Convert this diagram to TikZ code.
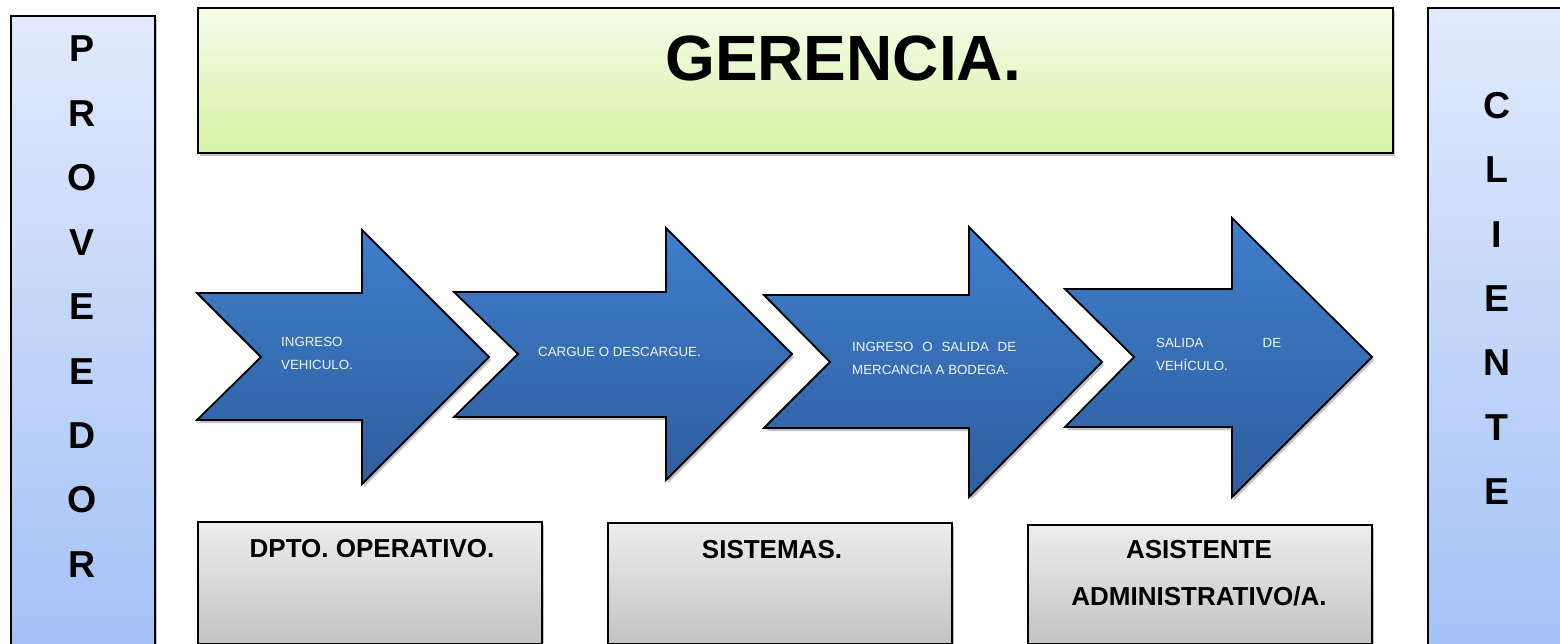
\documentclass[tikz,border=0pt]{standalone}
\usepackage{fontspec}
\setmainfont{Liberation Sans}
\usetikzlibrary{shadows}
\definecolor{arrowtop}{HTML}{3F7ECB}
\definecolor{arrowbot}{HTML}{2E5E9E}
\definecolor{sidetop}{HTML}{E1EAFD}
\definecolor{sidebot}{HTML}{A3C1F6}
\definecolor{greentop}{HTML}{F6FDEA}
\definecolor{greenbot}{HTML}{D5F2A3}
\definecolor{graytop}{HTML}{EDEDED}
\definecolor{graybot}{HTML}{C3C3C3}
\definecolor{txtwhite}{HTML}{F0F4FA}
\begin{document}
\begin{tikzpicture}[x=1pt,y=-1pt,
  boxshadow/.style={drop shadow={shadow xshift=2pt,shadow yshift=-3pt,opacity=0.35,fill=black!70}},
  plainbox/.style={draw=black,line width=1.6pt,anchor=north west,inner sep=0pt,boxshadow},
  sidebox/.style={plainbox,top color=sidetop,bottom color=sidebot},
  greenbox/.style={plainbox,top color=greentop,bottom color=greenbot},
  graybox/.style={plainbox,top color=graytop,bottom color=graybot},
  bigletter/.style={font=\fontsize{37.5}{40}\selectfont\bfseries,anchor=base,inner sep=0pt},
  deptlabel/.style={font=\fontsize{26}{30}\selectfont\bfseries,anchor=base,inner sep=0pt},
  processarrow/.style={draw=black,line width=1.8pt,line join=miter,top color=arrowtop,bottom color=arrowbot,boxshadow},
  arrowlabel/.style={font=\fontsize{13.3}{23}\selectfont,text=txtwhite,align=left,anchor=west,inner sep=0pt}
]
\useasboundingbox (0,0) rectangle (1560,644);

% side boxes
\node[sidebox,minimum width=144pt,minimum height=640pt] (prov) at (10,15) {};
\node[sidebox,minimum width=150pt,minimum height=650pt] (cli) at (1427,7) {};
\foreach \l [count=\i] in {P,R,O,V,E,E,D,O,R}
  \node[bigletter] (p\i) at (82,{62+(\i-1)*64.4}) {\l};
\foreach \l [count=\i] in {C,L,I,E,N,T,E}
  \node[bigletter] (c\i) at (1497,{118.5+(\i-1)*64.3}) {\l};

% gerencia
\node[greenbox,minimum width=1195pt,minimum height=145pt] (ger) at (197,7) {};
\node[font=\fontsize{64}{70}\selectfont\bfseries,anchor=base,inner sep=0pt] (gertext) at (843,81) {GERENCIA.};

% department boxes
\node[graybox,minimum width=344pt,minimum height=122pt] (dpto) at (197,521) {};
\node[graybox,minimum width=344pt,minimum height=121pt] (sist) at (607,522) {};
\node[graybox,minimum width=344pt,minimum height=119pt] (asis) at (1027,524) {};
\node[deptlabel] (dptotext) at (372,557) {DPTO. OPERATIVO.};
\node[deptlabel] (sisttext) at (772,558) {SISTEMAS.};
\node[deptlabel] (asistext1) at (1199,558) {ASISTENTE};
\node[deptlabel] (asistext2) at (1199,605) {ADMINISTRATIVO/A.};

% process arrows
\path[processarrow] (197,293) -- (362,293) -- (362,230) -- (489,357) -- (362,484)
  -- (362,420) -- (197,420) -- (261,357) -- cycle;
\path[processarrow] (454,292) -- (666,292) -- (666,228) -- (792,354) -- (666,480)
  -- (666,417) -- (454,417) -- (518,354) -- cycle;
\path[processarrow] (764,295) -- (969,295) -- (969,227) -- (1102,362) -- (969,497)
  -- (969,428) -- (764,428) -- (830,362) -- cycle;
\path[processarrow] (1065,289) -- (1232,289) -- (1232,218) -- (1372,357) -- (1232,497)
  -- (1232,427) -- (1065,427) -- (1134,357) -- cycle;

\node[arrowlabel] (a1text) at (281,353.5) {INGRESO\\VEHICULO.};
\node[arrowlabel,anchor=base west] (a2text) at (538,356) {CARGUE O DESCARGUE.};
\node[arrowlabel] (a3text) at (852,358) {\makebox[164pt][s]{INGRESO O SALIDA DE}\\MERCANCIA A BODEGA.};
\node[arrowlabel] (a4text) at (1156,354.5) {\makebox[125pt][s]{SALIDA DE}\\VEHÍCULO.};
\end{tikzpicture}
\end{document}
